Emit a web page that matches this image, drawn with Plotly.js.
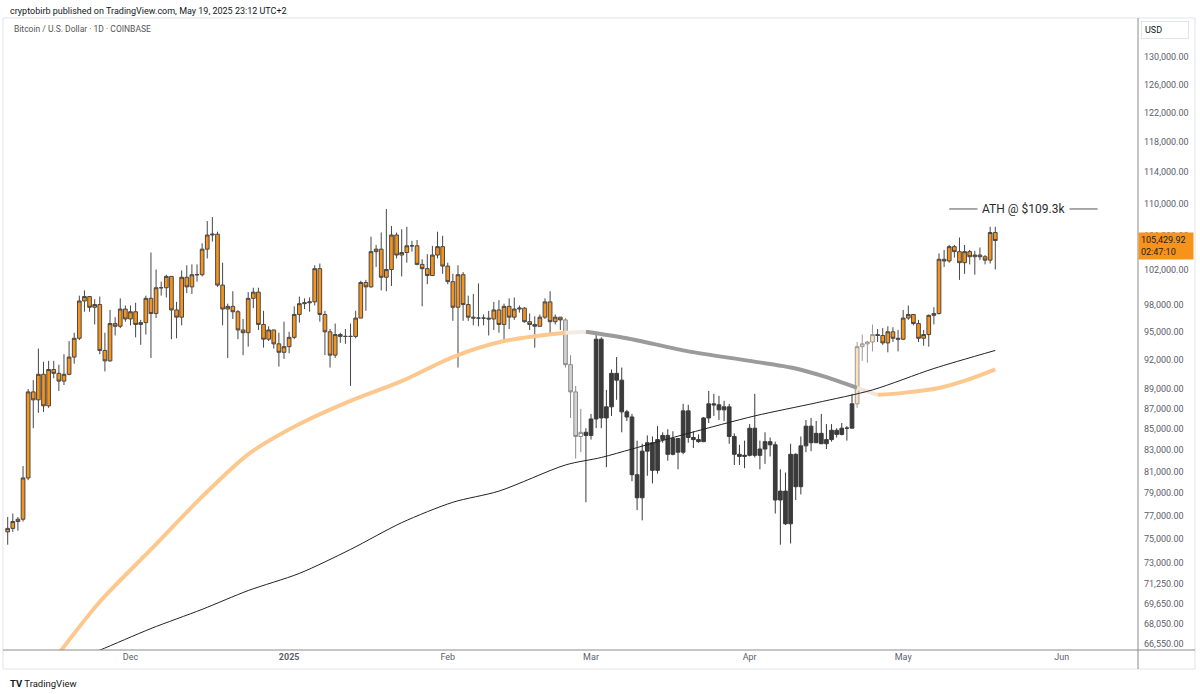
<!DOCTYPE html>
<html><head><meta charset="utf-8">
<script src="https://cdn.plot.ly/plotly-3.0.1.min.js"></script>
<style>html,body{margin:0;padding:0;background:#fff}#chart{width:1200px;height:694px}</style>
</head><body><div id="chart"></div>
<script>
// ---- DATA (BTC/USD daily, values in thousands of USD) ----
const firstDate = '2024-11-07';
const openK = [
 75.6,75.9,76.5,76.7,80.4,88.7,87.9,90.5,87.3,91.0,90.6,89.8,90.5,92.3,94.3,98.4,98.9,97.7,98.0,93.0,91.9,95.9,95.6,97.5,
 96.4,97.2,95.8,96.0,98.7,97.0,99.9,99.9,101.2,97.4,96.6,101.1,100.0,101.4,101.4,104.4,106.1,106.2,100.2,97.5,97.8,97.2,95.2,94.9,98.7,99.4,95.8,94.2,95.2,93.7,92.8,
 93.4,94.4,96.9,98.1,98.2,98.3,102.1,96.9,95.0,92.5,94.7,94.5,94.5,94.5,96.5,100.5,100.0,104.1,104.4,101.1,102.0,106.1,103.7,104.0,104.8,104.8,102.6,102.1,101.3,103.7,104.7,
 102.4,100.6,97.7,101.4,98.0,96.6,96.5,96.5,96.5,96.4,97.4,95.8,97.8,96.6,97.5,97.6,96.1,95.8,95.6,96.6,98.3,96.1,96.6,96.3,91.5,88.7,84.3,84.7,
 84.4,86.0,94.2,86.1,87.2,90.6,89.9,86.7,86.2,80.7,78.6,82.9,83.7,81.1,84.0,84.4,82.6,84.1,82.8,86.8,84.2,84.0,83.8,86.1,87.5,87.4,86.9,87.2,84.3,82.6,82.4,
 82.5,85.1,82.5,83.1,83.8,83.5,78.4,79.2,76.3,82.6,79.6,83.4,85.3,83.7,84.6,83.6,84.0,84.9,84.5,85.1,85.1,87.5,93.4,93.7,93.9,94.7,94.6,93.8,95.0,94.3,
 94.2,96.5,96.9,95.9,94.3,94.7,96.8,97.0,103.2,103.0,104.7,104.1,102.8,104.1,103.5,103.7,103.5,103.1,106.4
];
const highK = [
 76.9,77.2,76.9,81.5,89.0,89.9,93.2,91.8,91.9,91.9,91.5,92.6,94.0,94.9,99.0,99.6,98.9,98.6,98.9,94.9,97.4,96.6,98.7,97.9,
 97.9,98.2,96.3,99.0,104.0,102.0,100.6,101.4,101.2,98.3,101.9,102.5,102.6,102.6,105.1,107.8,108.3,106.5,102.8,98.1,99.5,97.4,96.4,99.4,99.9,99.9,97.3,95.6,95.2,94.9,96.1,
 95.0,97.8,98.9,98.7,98.8,102.5,102.7,97.3,95.3,95.9,94.9,95.3,95.9,97.3,100.7,100.8,105.9,104.9,106.4,109.3,107.2,106.4,106.8,107.1,105.4,105.5,103.2,103.8,104.8,106.5,106.0,
 102.8,101.5,102.5,101.7,99.0,99.2,100.4,96.9,97.3,98.3,98.5,98.1,98.7,98.8,97.9,97.7,97.0,96.7,96.9,98.7,99.5,96.9,96.6,96.5,92.5,89.3,87.0,85.1,
 86.5,95.0,94.4,88.9,91.0,92.3,91.2,86.9,86.5,83.9,83.6,84.4,84.3,85.3,84.7,85.0,84.8,84.1,87.5,87.4,84.8,84.5,86.2,88.8,88.5,88.3,87.8,87.5,84.6,83.5,83.9,
 85.5,88.5,83.9,84.7,84.2,83.8,81.2,80.9,83.6,82.7,84.3,85.9,86.1,85.8,86.5,85.5,85.5,85.1,85.6,85.3,88.5,93.9,94.7,94.0,95.8,95.3,95.4,95.6,95.5,95.2,
 97.4,97.9,96.9,96.3,95.2,96.9,97.7,103.9,104.3,104.9,104.9,105.8,104.9,104.3,104.2,104.6,103.7,107.1,107.1
];
const lowK = [
 74.5,75.6,75.7,76.5,80.2,85.1,86.6,86.7,87.1,90.1,88.8,89.4,90.4,91.6,94.1,97.2,97.2,95.8,92.6,90.8,91.8,94.6,95.4,96.1,
 95.7,94.4,93.6,94.7,92.2,96.5,99.0,98.8,94.2,94.3,95.7,99.3,99.2,100.6,101.2,103.3,105.3,100.0,95.7,92.2,96.4,94.2,92.5,93.4,97.6,95.2,93.3,94.0,93.2,91.3,92.1,
 92.7,94.2,96.0,97.5,97.2,97.9,96.1,92.5,91.2,92.2,93.8,93.7,89.3,94.3,96.5,97.3,99.9,102.3,99.6,99.5,100.1,103.3,101.2,102.8,104.1,102.5,97.8,100.3,101.3,103.3,101.5,
 100.3,96.2,91.2,96.2,96.2,95.7,95.6,95.7,94.6,95.2,94.9,94.1,95.3,96.3,97.1,96.0,95.2,93.3,95.6,96.4,94.8,95.8,95.2,91.2,86.1,82.2,82.8,78.2,
 84.0,85.1,85.1,81.4,86.3,87.9,84.7,85.8,80.1,77.5,76.6,80.6,79.9,80.8,83.7,82.0,82.5,81.2,82.6,83.7,83.2,83.7,83.8,85.6,86.3,85.9,85.8,83.6,81.6,81.6,81.3,
 82.4,82.3,81.2,81.7,82.4,77.2,74.5,76.2,74.6,78.4,78.9,82.8,82.9,83.7,83.6,83.1,83.8,84.2,84.4,83.9,85.1,87.1,91.9,91.7,92.9,93.9,93.6,92.8,93.9,92.9,
 94.1,96.3,95.7,93.9,93.5,93.4,95.8,96.9,102.3,102.8,103.4,100.8,101.5,102.6,101.4,103.1,102.6,102.7,102.0
];
const closeK = [
 75.9,76.5,76.7,80.4,88.7,87.9,90.5,87.3,91.0,90.6,89.8,90.5,92.3,94.3,98.4,98.9,97.7,98.0,93.0,91.9,95.9,95.6,97.5,96.4,
 97.2,95.8,96.0,98.7,97.0,99.9,99.9,101.2,97.4,96.6,101.1,100.0,101.4,101.4,104.4,106.1,106.2,100.2,97.5,97.8,97.2,95.2,94.9,98.7,99.4,95.8,94.2,95.2,93.7,92.8,93.4,
 94.4,96.9,98.1,98.2,98.3,102.1,96.9,95.0,92.5,94.7,94.5,94.5,94.5,96.5,100.5,100.0,104.1,104.4,101.1,102.0,106.1,103.7,104.0,104.8,104.8,102.6,102.1,101.3,103.7,104.7,102.4,
 100.6,97.7,101.4,98.0,96.6,96.5,96.5,96.5,96.4,97.4,95.8,97.8,96.6,97.5,97.6,96.1,95.8,95.6,96.6,98.3,96.1,96.6,96.3,91.5,88.7,84.3,84.7,84.4,
 86.0,94.2,86.1,87.2,90.6,89.9,86.7,86.2,80.7,78.6,82.9,83.7,81.1,84.0,84.4,82.6,84.1,82.8,86.8,84.2,84.0,83.8,86.1,87.5,87.4,86.9,87.2,84.3,82.6,82.4,82.5,
 85.1,82.5,83.1,83.8,83.5,78.4,79.2,76.3,82.6,79.6,83.4,85.3,83.7,84.6,83.6,84.0,84.9,84.5,85.1,85.1,87.5,93.4,93.7,93.9,94.7,94.6,93.8,95.0,94.3,94.2,
 96.5,96.9,95.9,94.3,94.7,96.8,97.0,103.2,103.0,104.7,104.1,102.8,104.1,103.5,103.7,103.5,103.1,106.4,105.42992
];

// Colour regime of the bars (start dates, as seen in the picture)
const regimeStarts = ['2024-11-07','2025-02-24','2025-02-28','2025-04-22','2025-04-26'];
const regimeNames  = ['bull','fade','bear','recover','bull'];

// Thick moving average (orange / grey), thousands USD
const maDates = ['2024-11-15','2024-11-25','2024-12-05','2024-12-15','2024-12-24','2025-01-03','2025-01-13','2025-01-23','2025-02-02','2025-02-12','2025-02-24','2025-02-28','2025-03-08','2025-03-20','2025-04-01','2025-04-10','2025-04-16','2025-04-22','2025-04-26','2025-05-01','2025-05-08','2025-05-14','2025-05-19'];
const maK     = [64.8,69.8,74.1,78.7,82.6,85.5,87.8,89.8,92.3,94.0,94.9,95.0,94.3,92.9,91.9,91.1,90.2,89.1,88.4,88.6,89.1,90.0,91.0];

// Thin black moving average, thousands USD
const ma2Dates = ['2024-11-20','2024-11-25','2024-12-05','2024-12-15','2024-12-24','2025-01-03','2025-01-13','2025-01-23','2025-02-02','2025-02-11','2025-02-24','2025-03-03','2025-03-09','2025-03-20','2025-04-02','2025-04-14','2025-04-25','2025-05-07','2025-05-19'];
const ma2K     = [65.3,66.05,67.7,69.2,70.7,72.1,74.1,76.4,78.2,79.2,81.6,82.3,83.1,84.6,86.3,87.6,88.9,91.1,93.0];

// Axis ticks
const yTicks = [130000,126000,122000,118000,114000,110000,106000,102000,98000,95000,92000,89000,87000,85000,83000,81000,79000,77000,75000,73000,71250,69650,68050,66550];
const xTickDates = ['2024-12-01','2025-01-01','2025-02-01','2025-03-01','2025-04-01','2025-05-01','2025-06-01'];
const xTickLabels = ['Dec','<b>2025</b>','Feb','Mar','Apr','May','Jun'];

const athValue = 109300;
const athLabel = 'ATH @ $109.3k';
const athFrom = '2025-05-10', athTo = '2025-06-08', athLabelAt = '2025-05-24 10:00';
const lastPriceText = '105,429.92';
const countdownText = '02:47:10';

// ---- BUILD ----
function addDays(iso, n){ const d = new Date(iso+'T00:00:00Z'); d.setUTCDate(d.getUTCDate()+n); return d.toISOString().slice(0,10); }
const dates = closeK.map((_, i) => addDays(firstDate, i));
const K = v => v * 1000;

function regimeOf(d){ let r = regimeNames[0]; for(let i=0;i<regimeStarts.length;i++){ if(d >= regimeStarts[i]) r = regimeNames[i]; } return r; }

const styles = {
  bull:    {inc:'#F7931A', dec:'#F7931A', line:'#474747'},
  fade:    {inc:'#ffffff', dec:'#d2d2d2', line:'#8a8a8a'},
  bear:    {inc:'#3b3b3b', dec:'#3b3b3b', line:'#3a3a3a'},
  recover: {inc:'#fde1bd', dec:'#fde1bd', line:'#999999'}
};

const traces = [];

// moving average segments coloured by regime
const maColors = {bull:'#fcc88e', fade:'#f3ebe3', bear:'#9b9b9b', recover:'#efe6dc'};
for(let i=0;i<regimeStarts.length;i++){
  const s = regimeStarts[i], e = i+1<regimeStarts.length ? regimeStarts[i+1] : '2100-01-01';
  const xs=[], ys=[];
  maDates.forEach((d,j)=>{ if(d>=s && d<=e){ xs.push(d); ys.push(K(maK[j])); } });
  if(i===0){ maDates.forEach((d,j)=>{ if(d<s){ xs.unshift(d); ys.unshift(K(maK[j])); } }); xs.sort(); }
  traces.push({type:'scatter', mode:'lines', x:xs, y:ys, hoverinfo:'skip',
    line:{color:maColors[regimeNames[i]], width:4, shape:'spline', smoothing:0.8}});
}
traces.push({type:'scatter', mode:'lines', x:ma2Dates, y:ma2K.map(K), hoverinfo:'skip',
  line:{color:'#222222', width:1, shape:'spline', smoothing:0.8}});

// candles grouped by regime
['bull','fade','bear','recover'].forEach(name=>{
  const idx = dates.map((d,i)=>regimeOf(d)===name?i:-1).filter(i=>i>=0);
  const st = styles[name];
  traces.push({type:'candlestick', hoverinfo:'skip',
    x: idx.map(i=>dates[i]),
    open: idx.map(i=>K(openK[i])), high: idx.map(i=>K(highK[i])),
    low: idx.map(i=>K(lowK[i])), close: idx.map(i=>K(closeK[i])),
    whiskerwidth:0,
    increasing:{fillcolor:st.inc, line:{color:st.line, width:1}},
    decreasing:{fillcolor:st.dec, line:{color:st.line, width:1}}
  });
});

// ATH line
traces.push({type:'scatter', mode:'lines', x:[athFrom, athTo], y:[athValue, athValue], hoverinfo:'skip',
  line:{color:'#555555', width:1}});

const fmt = v => v.toLocaleString('en-US',{minimumFractionDigits:2, maximumFractionDigits:2});
const lastClose = K(closeK[closeK.length-1]);

// paper helpers (plot area: x 4..1138, y 18..650)
const px = x => (x-4)/1134, py = y => (650-y)/632;
const tickFont = {family:'Roboto, "Liberation Sans", sans-serif', size:9, color:'#5d606b'};

const layout = {
  width:1200, height:694,
  margin:{l:4, r:62, t:18, b:44, pad:0},
  paper_bgcolor:'#ffffff', plot_bgcolor:'#ffffff',
  showlegend:false,
  boxgap:0.28, boxgroupgap:0,
  xaxis:{type:'date', range:['2024-11-06 06:43','2025-06-15 21:21'],
    showgrid:false, zeroline:false, showline:false, ticks:'',
    tickvals:xTickDates, ticktext:xTickLabels, tickfont:tickFont,
    rangeslider:{visible:false}, fixedrange:true},
  yaxis:{type:'log', side:'right', range:[4.81995, 5.13331],
    showgrid:false, zeroline:false, showline:false, ticks:'',
    tickvals:yTicks, ticktext:yTicks.map(fmt), tickfont:tickFont,
    ticklabelstandoff:5, fixedrange:true},
  shapes:[
    {type:'rect', xref:'paper', yref:'paper', x0:px(3), x1:px(1195), y0:py(669), y1:py(18), line:{color:'#e0e3eb', width:1}},
    {type:'line', xref:'paper', yref:'paper', x0:px(3), x1:px(1195), y0:0, y1:0, line:{color:'#8c8c8c', width:1}},
    {type:'line', xref:'paper', yref:'paper', x0:1, x1:1, y0:py(669), y1:1, line:{color:'#8c8c8c', width:1}}
  ],
  annotations:[
    {xref:'paper', yref:'paper', x:px(8), y:py(11), xanchor:'left', yanchor:'middle', showarrow:false,
      text:'cryptobirb published on TradingView.com, May 19, 2025 23:12 UTC+2',
      font:{family:'Roboto, sans-serif', size:9, color:'#131722'}},
    {xref:'paper', yref:'paper', x:px(12), y:py(29), xanchor:'left', yanchor:'middle', showarrow:false,
      text:'Bitcoin / U.S. Dollar · 1D · COINBASE',
      font:{family:'Roboto, sans-serif', size:8.5, color:'#555555'}},
    {xref:'paper', yref:'paper', x:px(1141), y:py(30), xanchor:'left', yanchor:'middle', showarrow:false,
      text:'USD', align:'left', width:40, bordercolor:'#e0e3eb', borderwidth:1, borderpad:3,
      font:{family:'Roboto, sans-serif', size:9, color:'#131722'}},
    {xref:'paper', yref:'y', x:1, y:Math.log10(lastClose), xanchor:'left', yanchor:'middle', yshift:-5, showarrow:false,
      text:lastPriceText+'<br>'+countdownText, align:'left', width:50, bgcolor:'#f7931a', borderpad:2,
      font:{family:'Roboto, sans-serif', size:9, color:'#1e1e1e'}},
    {xref:'x', yref:'y', x:athLabelAt, y:Math.log10(athValue), xanchor:'center', yanchor:'middle', showarrow:false,
      text:athLabel, bgcolor:'#ffffff', borderpad:4,
      font:{family:'Roboto, sans-serif', size:12, color:'#2a2a2a'}},
    {xref:'paper', yref:'paper', x:px(8), y:py(683), xanchor:'left', yanchor:'middle', showarrow:false,
      text:'<b>TV</b> TradingView',
      font:{family:'Roboto, sans-serif', size:9.5, color:'#131722'}}
  ]
};

Plotly.newPlot('chart', traces, layout, {staticPlot:true, displayModeBar:false});
</script>
</body></html>
